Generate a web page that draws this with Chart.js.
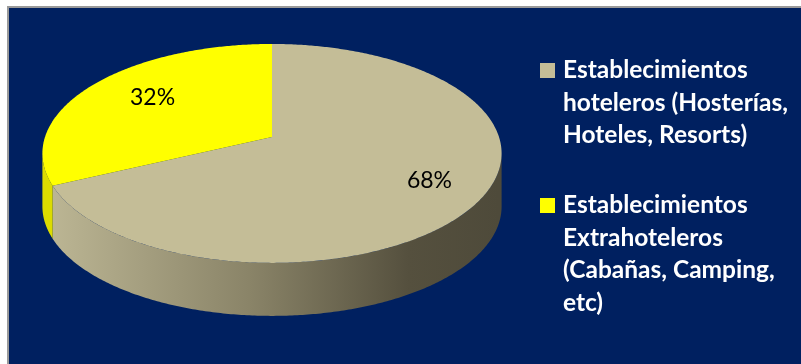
<!DOCTYPE html>
<html>
<head>
<meta charset="utf-8">
<script src="https://cdn.jsdelivr.net/npm/chart.js@4/dist/chart.umd.min.js"></script>
<style>
  html, body { margin: 0; padding: 0; background: #fff; }
  canvas { display: block; }
</style>
</head>
<body>
<canvas id="myChart" width="801" height="364"></canvas>
<script>
const categories = [
  ['Establecimientos', 'hoteleros (Hosterías,', 'Hoteles, Resorts)'],
  ['Establecimientos', 'Extrahoteleros', '(Cabañas, Camping,', 'etc)']
];
const shares = [68, 32];
const sliceColors = ['#C4BD97', '#FFFF00'];

// tilted disc: centre, radii, perspective and thickness
const disc = { cx: 272, cy: 137, rx: 227, ry: 107, persp: 0.15, depth: 53 };
const NAVY = '#002060';

const project = (angle, f) => {
  const u = f * Math.cos(angle);
  const v = f * Math.sin(angle);
  const den = 1 - disc.persp * v;
  return [disc.cx + disc.rx * u / den, disc.cy + disc.ry * v / den];
};

const rimPoints = (from, to) => {
  const n = Math.max(2, Math.ceil((to - from) / 0.01));
  const pts = [];
  for (let i = 0; i <= n; i++) pts.push(project(from + (to - from) * i / n, 1));
  return pts;
};

const wallFill = (ctx, i) => {
  if (i === 1) return '#dcdc00';
  const g = ctx.createLinearGradient(disc.cx - disc.rx, 0, disc.cx + disc.rx, 0);
  g.addColorStop(0, '#bdb795');
  g.addColorStop(0.45, '#8a8468');
  g.addColorStop(0.8, '#55503e');
  g.addColorStop(1, '#4e4a3a');
  return g;
};

const tiltedPie = {
  id: 'tiltedPie',
  beforeDraw(chart) {
    const { ctx, width, height } = chart;
    ctx.save();
    ctx.fillStyle = '#fff';
    ctx.fillRect(0, 0, width, height);
    ctx.fillStyle = '#9a9a9a';
    ctx.fillRect(7, 6, width - 7, 2);
    ctx.fillRect(7, 6, 2, height - 6);
    ctx.fillStyle = NAVY;
    ctx.fillRect(9, 8, width - 9, height - 8);
    ctx.restore();
  },
  beforeDatasetsDraw(chart) {
    const ctx = chart.ctx;
    const arcs = chart.getDatasetMeta(0).data;
    const right = Math.asin(disc.persp);
    const left = Math.PI - right;
    ctx.save();
    // side walls on the near half
    arcs.forEach((arc, i) => {
      for (let k = -1; k <= 1; k++) {
        const lo = Math.max(arc.startAngle + 2 * Math.PI * k, right);
        const hi = Math.min(arc.endAngle + 2 * Math.PI * k, left);
        if (hi <= lo) continue;
        const top = rimPoints(lo, hi);
        ctx.beginPath();
        top.forEach(([x, y], j) => j ? ctx.lineTo(x, y) : ctx.moveTo(x, y));
        for (let j = top.length - 1; j >= 0; j--) ctx.lineTo(top[j][0], top[j][1] + disc.depth);
        ctx.closePath();
        ctx.fillStyle = wallFill(ctx, i);
        ctx.fill();
      }
    });
    // top faces
    arcs.forEach((arc, i) => {
      const [x0, y0] = project(0, 0);
      ctx.beginPath();
      ctx.moveTo(x0, y0);
      rimPoints(arc.startAngle, arc.endAngle).forEach(([x, y]) => ctx.lineTo(x, y));
      ctx.closePath();
      ctx.fillStyle = chart.data.datasets[0].backgroundColor[i];
      ctx.fill();
    });
    ctx.restore();
    return false;
  },
  afterDraw(chart) {
    const ctx = chart.ctx;
    const arcs = chart.getDatasetMeta(0).data;
    const values = chart.data.datasets[0].data;
    const total = values.reduce((a, b) => a + b, 0);
    ctx.save();
    // percentage labels
    ctx.fillStyle = '#000';
    ctx.font = '23px Lato';
    ctx.textAlign = 'center';
    ctx.textBaseline = 'middle';
    arcs.forEach((arc, i) => {
      const mid = (arc.startAngle + arc.endAngle) / 2;
      const [x, y] = project(mid, 0.72);
      ctx.fillText(Math.round(values[i] / total * 100) + '%', x + 11, y);
    });
    // legend
    ctx.font = 'bold 24.5px Lato';
    ctx.textAlign = 'left';
    ctx.textBaseline = 'alphabetic';
    let y = 78;
    chart.data.labels.forEach((lines, i) => {
      ctx.fillStyle = chart.data.datasets[0].backgroundColor[i];
      ctx.fillRect(540, y - 15, 15, 15);
      ctx.fillStyle = '#fff';
      lines.forEach((line, j) => ctx.fillText(line, 563, y + j * 32.5));
      y += lines.length * 32.5 + 37.5;
    });
    ctx.restore();
  }
};

const renderChart = () => {
  const ctx = document.getElementById('myChart');
  new Chart(ctx, {
    type: 'pie',
    data: {
      labels: categories,
      datasets: [{
        data: shares,
        backgroundColor: sliceColors,
        borderWidth: 0
      }]
    },
    options: {
      responsive: false,
      animation: false,
      plugins: {
        legend: { display: false },
        tooltip: { enabled: false }
      }
    },
    plugins: [tiltedPie]
  });
};

window.onload = () => {
  renderChart();
};
</script>
</body>
</html>
